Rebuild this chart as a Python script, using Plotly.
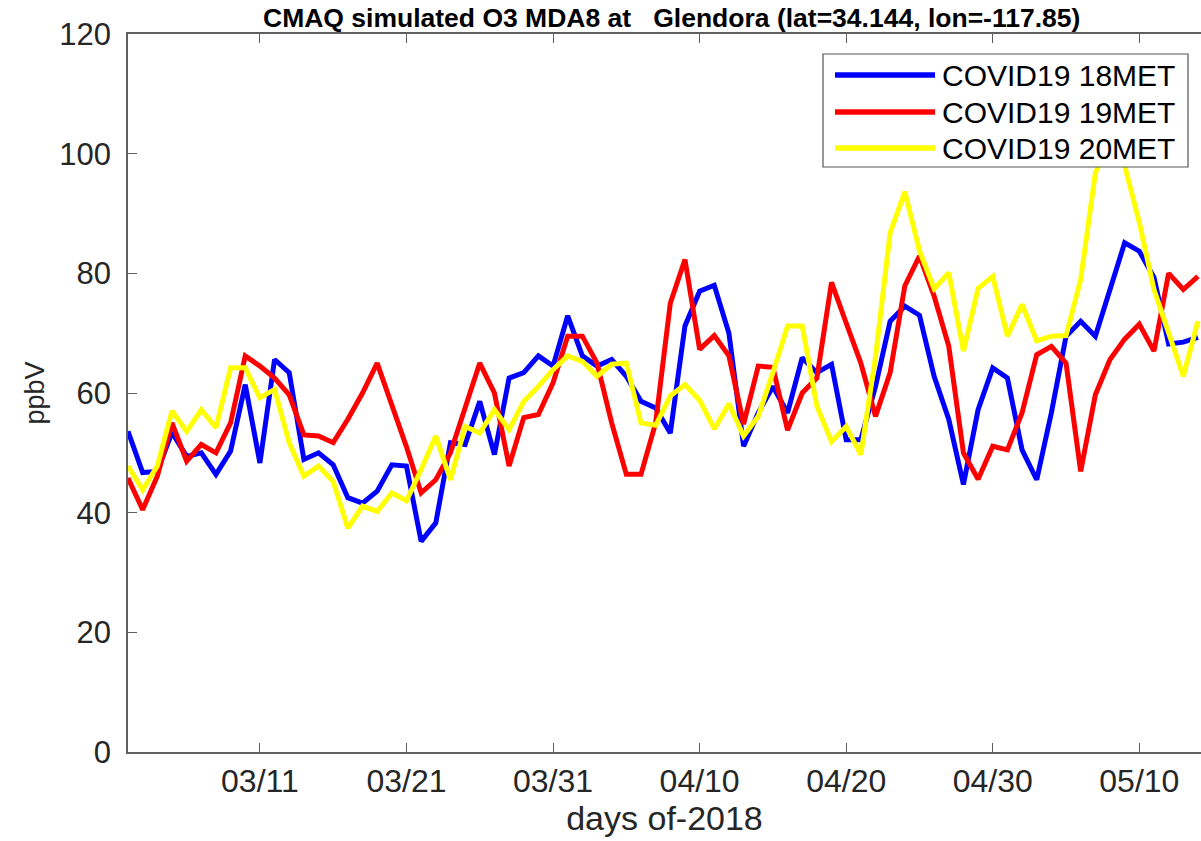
import pandas as pd
import plotly.graph_objects as go

# ---------------- data ----------------
start_date = "2018-03-02"
n_days = 74
dates = pd.date_range(start_date, periods=n_days, freq="D")

series_names = ["COVID19 18MET", "COVID19 19MET", "COVID19 20MET"]

met18 = [53.6, 46.7, 46.9, 53.4, 49.4, 50.0, 46.4, 50.3, 61.4, 48.3,
         65.6, 63.4, 48.9, 50.0, 48.0, 42.5, 41.6, 43.6, 48.0, 47.8,
         35.2, 38.3, 51.7, 51.4, 58.6, 49.7, 62.5, 63.4, 66.2, 64.5,
         72.9, 66.2, 64.5, 65.6, 62.8, 58.6, 57.5, 53.3, 71.2, 77.0,
         78.0, 70.0, 51.1, 56.7, 61.1, 56.7, 65.9, 63.4, 64.8, 52.2,
         52.2, 61.1, 72.0, 74.5, 73.0, 62.8, 55.6, 44.7, 57.2, 64.2,
         62.5, 50.5, 45.5, 56.7, 69.5, 72.0, 69.5, 77.0, 85.1, 83.7,
         79.3, 68.2, 68.5, 69.3]

met19 = [45.8, 40.5, 46.1, 55.0, 48.6, 51.4, 50.0, 55.0, 66.2, 64.5,
         62.5, 59.7, 53.0, 52.8, 51.7, 55.6, 60.0, 65.0, 58.0, 51.0,
         43.3, 45.5, 50.0, 57.5, 65.0, 60.0, 47.8, 55.9, 56.4, 61.7,
         69.5, 69.5, 65.0, 55.0, 46.4, 46.4, 55.0, 75.0, 82.3, 67.3,
         69.6, 66.2, 54.8, 64.5, 64.3, 53.8, 60.0, 62.5, 78.5, 71.7,
         65.0, 56.1, 63.4, 77.9, 82.9, 76.2, 67.8, 50.0, 45.6, 51.1,
         50.5, 56.7, 66.4, 67.8, 65.0, 46.9, 59.7, 65.6, 69.0, 71.5,
         67.0, 80.0, 77.3, 79.5]

met20 = [47.8, 43.8, 47.8, 57.0, 53.6, 57.2, 54.2, 64.2, 64.2, 59.2,
         60.6, 51.7, 46.1, 47.8, 45.2, 37.4, 41.1, 40.2, 43.3, 42.0,
         47.2, 52.8, 45.5, 54.4, 53.3, 57.2, 53.9, 58.6, 61.1, 63.9,
         66.2, 65.3, 62.8, 64.8, 65.0, 55.0, 54.6, 59.5, 61.4, 58.8,
         54.0, 58.2, 52.8, 56.1, 63.4, 71.2, 71.2, 57.8, 51.9, 54.4,
         49.7, 66.0, 86.8, 93.6, 83.8, 77.4, 80.1, 67.0, 77.5, 79.5,
         69.5, 74.8, 68.7, 69.5, 69.6, 79.0, 96.8, 102.0, 98.0, 88.5,
         77.3, 70.0, 62.8, 72.0]

tick_dates = ["2018-03-11", "2018-03-21", "2018-03-31", "2018-04-10",
              "2018-04-20", "2018-04-30", "2018-05-10"]
tick_labels = ["03/11", "03/21", "03/31", "04/10", "04/20", "04/30", "05/10"]
y_ticks = [0, 20, 40, 60, 80, 100, 120]

title_text = "CMAQ simulated O3 MDA8 at\u00a0\u00a0\u00a0Glendora (lat=34.144, lon=-117.85)"
x_title = "days of-2018"
y_title = "ppbV"

# ---------------- style ----------------
colors = ["#0000FF", "#FF0000", "#FFFF00"]
FONT = "Liberation Sans, Arial, Helvetica, sans-serif"
AXIS_COLOR = "#5f5f5f"
TEXT_COLOR = "#262626"

W, H = 1201, 841
ML, MR, MT, MB = 128, 0, 34, 89
PW, PH = W - ML - MR, H - MT - MB


def px_x(px):
    return (px - ML) / PW


def px_y(py):
    return (H - MB - py) / PH


fig = go.Figure()
for name, vals, col in zip(series_names, [met18, met19, met20], colors):
    fig.add_trace(go.Scatter(x=dates, y=vals, mode="lines", name=name,
                             line=dict(color=col, width=5),
                             showlegend=False))

# custom legend (MATLAB style: long line samples)
shapes = [dict(type="rect", xref="paper", yref="paper",
               x0=px_x(823), x1=px_x(1188), y0=px_y(167), y1=px_y(54),
               fillcolor="white", line=dict(color="#555555", width=1.2),
               layer="above")]
annotations = []
legend_rows = [75, 112, 148]
for name, col, py in zip(series_names, colors, legend_rows):
    shapes.append(dict(type="line", xref="paper", yref="paper",
                       x0=px_x(835), x1=px_x(935), y0=px_y(py), y1=px_y(py),
                       line=dict(color=col, width=5.5), layer="above"))
    annotations.append(dict(xref="paper", yref="paper", x=px_x(940), y=px_y(py),
                            text=name, showarrow=False, xanchor="left",
                            yanchor="middle",
                            font=dict(family=FONT, size=30, color="#000000")))

annotations.append(dict(xref="paper", yref="paper", x=px_x(671), y=px_y(18),
                        text="<b>" + title_text + "</b>", showarrow=False,
                        xanchor="center", yanchor="middle",
                        font=dict(family=FONT, size=26.5, color="#000000")))

fig.update_layout(
    width=W, height=H,
    margin=dict(l=ML, r=MR, t=MT, b=MB, pad=0),
    paper_bgcolor="white", plot_bgcolor="white",
    shapes=shapes, annotations=annotations,
    showlegend=False,
    font=dict(family=FONT, color=TEXT_COLOR),
)

fig.update_xaxes(
    type="date",
    range=["2018-03-02 00:00", "2018-05-14 05:00"],
    tickvals=pd.to_datetime(tick_dates), ticktext=tick_labels,
    ticks="inside", ticklen=9, tickwidth=1.3, tickcolor=AXIS_COLOR,
    showline=True, linecolor=AXIS_COLOR, linewidth=1.5, mirror="ticks",
    showgrid=False, zeroline=False,
    tickfont=dict(family=FONT, size=32, color=TEXT_COLOR),
    ticklabelstandoff=0,
    title=dict(text=x_title, font=dict(family=FONT, size=34, color=TEXT_COLOR),
               standoff=6),
)
fig.update_yaxes(
    range=[0, 120], tickvals=y_ticks,
    ticks="inside", ticklen=9, tickwidth=1.3, tickcolor=AXIS_COLOR,
    showline=True, linecolor=AXIS_COLOR, linewidth=1.5,
    showgrid=False, zeroline=False,
    tickfont=dict(family=FONT, size=31, color=TEXT_COLOR),
    ticklabelstandoff=9,
    title=dict(text=y_title, font=dict(family=FONT, size=27, color=TEXT_COLOR),
               standoff=7),
)

page_fix = ("document.documentElement.style.overflow='hidden';"
            "document.body.style.margin='0px';"
            "document.body.style.overflow='hidden';")
fig.write_html("out.html", post_script=page_fix,
               config={"displayModeBar": False})
